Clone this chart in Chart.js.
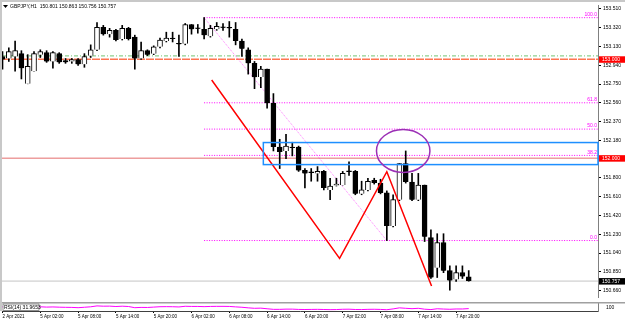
<!DOCTYPE html>
<html>
<head>
<meta charset="utf-8">
<script src="https://cdn.jsdelivr.net/npm/chart.js@4.4.1/dist/chart.umd.min.js"></script>
<style>
  body { margin: 0; background: #fff; }
  #wrap { position: relative; width: 625px; height: 320px; overflow: hidden; background: #fff; }
  #main { position: absolute; left: 0; top: 0; }
  #rsi { position: absolute; left: 0; top: 302px; }
  .bandTop { position: absolute; left: 0; top: 0; width: 625px; height: 2px; background: #c8c8c8; }
  .bandLeft { position: absolute; left: 0; top: 0; width: 2px; height: 311px; background: #c8c8c8; }
</style>
</head>
<body>
<div id="wrap">
  <canvas id="main" width="625" height="302"></canvas>
  <canvas id="rsi" width="625" height="18"></canvas>
  <div class="bandTop"></div>
  <div class="bandLeft"></div>
</div>
<script>
// GBPJPY H1 candles (index 0 = first visible bar)
const openP = [153.028,153.008,153.028,153.057,152.752,152.880,153.047,153.067,152.978,153.057,
  152.988,152.978,152.998,152.949,153.037,153.096,153.323,153.254,153.293,153.205,
  153.313,153.224,153.008,153.087,153.057,153.126,153.185,153.210,153.156,153.156,
  153.352,153.313,153.303,153.234,153.303,153.323,153.318,153.303,153.185,153.096,
  152.959,152.821,152.900,152.555,152.112,152.073,152.112,152.112,151.876,151.856,
  151.846,151.866,151.679,151.723,151.728,151.866,151.866,151.639,151.679,151.777,
  151.748,151.649,151.315,151.580,151.945,151.758,151.580,151.728,151.196,150.891,
  151.147,150.862,150.773,150.842,150.801];
const highP = [153.077,153.116,153.185,153.087,153.047,153.077,153.096,153.087,153.077,153.067,
  153.008,153.008,153.008,153.057,153.146,153.372,153.343,153.313,153.303,153.343,
  153.323,153.244,153.175,153.096,153.136,153.215,153.274,153.274,153.244,153.362,
  153.352,153.352,153.421,153.343,153.372,153.362,153.382,153.372,153.205,153.116,
  152.978,152.929,152.900,152.653,152.191,152.240,152.161,152.122,151.895,151.895,
  151.915,151.876,151.797,151.797,151.866,151.964,151.876,151.767,151.797,151.797,
  151.787,151.669,151.630,151.945,152.073,151.846,151.846,151.728,151.275,151.236,
  151.236,150.911,150.911,150.911,150.863];
const lowP = [152.900,152.978,152.880,152.801,152.752,152.880,153.018,152.969,152.909,152.959,
  152.959,152.959,152.939,152.919,153.018,153.087,153.244,153.224,153.185,153.195,
  153.195,152.900,152.998,153.037,153.047,153.116,153.175,153.175,153.028,153.146,
  153.254,153.264,153.205,153.224,153.293,153.293,153.224,153.146,153.028,152.850,
  152.703,152.713,152.506,152.073,151.895,151.994,152.023,151.866,151.698,151.767,
  151.767,151.679,151.580,151.718,151.728,151.826,151.630,151.630,151.669,151.738,
  151.639,151.167,151.305,151.570,151.748,151.570,151.570,151.157,150.783,150.793,
  150.842,150.665,150.753,150.783,150.756];
const closeP = [152.998,153.077,153.087,152.909,152.929,153.057,153.077,152.978,153.067,152.969,
  152.969,152.998,152.949,153.028,153.096,153.323,153.254,153.293,153.195,153.313,
  153.205,153.008,153.087,153.047,153.126,153.195,153.215,153.205,153.151,153.352,
  153.303,153.308,153.244,153.313,153.333,153.318,153.313,153.185,153.106,152.959,
  152.821,152.900,152.555,152.112,152.063,152.122,152.102,151.876,151.846,151.851,
  151.866,151.698,151.718,151.738,151.846,151.861,151.639,151.679,151.767,151.748,
  151.649,151.315,151.580,151.945,151.758,151.580,151.728,151.206,150.793,151.147,
  150.862,150.763,150.842,150.803,150.757];

const rsiValues = [55,57,58,52,50,55,56,52,54,51,49,48,44,50,56,68,64,65,60,64,
  60,44,48,47,52,57,58,57,54,63,61,61,58,61,62,62,61,55,50,42,
  36,38,30,22,22,25,25,21,20,21,22,20,18,19,23,24,20,19,22,23,
  21,17,28,42,36,31,36,24,19,30,26,23,27,27,32];
const rsiLabel = 'RSI(14) 31.9653';

const xLabels = ['2 Apr 2021','5 Apr 02:00','5 Apr 08:00','5 Apr 14:00','5 Apr 20:00','6 Apr 02:00',
  '6 Apr 08:00','6 Apr 14:00','6 Apr 20:00','7 Apr 02:00','7 Apr 08:00','7 Apr 14:00','7 Apr 20:00'];
const xLabelIdx = [0,6,12,18,24,30,36,42,48,54,60,66,72];
const yTicks = [150.660,150.850,151.040,151.230,151.420,151.610,151.800,
  152.180,152.370,152.560,152.750,152.940,153.130,153.320,153.510];

// fibonacci retracement
const fibNames = ['100.0','61.8','50.0','38.2','0.0'];
const fibPrices = [153.421,152.560,152.294,152.028,151.167];
const fibStart = 32;
const fibTrendX = [32, 61];
const fibTrendY = [153.421, 151.167];

// other objects
const greenLevel = 153.035;
const orangeLevel = 153.000;
const redLevel = 152.000;
const lastPrice = 150.757;
const zigX = [33.2, 53.5, 61.0, 68.1];
const zigY = [152.791, 150.987, 151.863, 150.707];
const zoneStart = 41.4, zoneTop = 152.158, zoneBottom = 151.935;
const ellipseCenter = [63.6, 152.073], ellipseRadius = [4.24, 0.217];

const xMin = -0.08, xMax = 94.52;
const yMin = 150.596, yMax = 153.549;
const FONT = 'Liberation Sans';
Chart.defaults.font.family = FONT;

const idx = openP.map((v, i) => i);
const bull = idx.map(i => closeP[i] >= openP[i]);

const hline = (p, color, width, dash, order) => ({
  type: 'line', data: [{x: xMin, y: p}, {x: xMax, y: p}],
  borderColor: color, borderWidth: width, borderDash: dash, pointRadius: 0, order: order
});

const datasets = [
  // candle bodies and wicks
  { type: 'bar', data: idx.map(i => ({x: i, y: [Math.min(openP[i], closeP[i]), Math.max(openP[i], closeP[i])]})),
    backgroundColor: bull.map(b => b ? '#fff' : '#000'), borderColor: '#000', borderWidth: 1,
    barThickness: 5, minBarLength: 1, grouped: false, order: 4 },
  { type: 'bar', data: idx.map(i => ({x: i, y: [lowP[i], highP[i]]})),
    backgroundColor: '#000', borderWidth: 0, barThickness: 1, grouped: false, order: 5 },
  hline(greenLevel, '#8fcf8f', 1.2, [4, 2, 1, 2], 9),
  hline(orangeLevel, '#ff7552', 1.5, [8, 1], 9),
  hline(redLevel, '#e46c6c', 1, [], 9),
  hline(lastPrice, '#c4c4c4', 1, [], 9),
  { type: 'line', data: fibTrendX.map((v, i) => ({x: v, y: fibTrendY[i]})),
    borderColor: 'rgba(255,0,255,0.5)', borderWidth: 1, borderDash: [1, 1], pointRadius: 0, order: 8 }
];
fibPrices.forEach(p => datasets.push({
  type: 'line', data: [{x: fibStart, y: p}, {x: xMax, y: p}],
  borderColor: '#f0f', borderWidth: 1, borderDash: [1, 1.5], pointRadius: 0, order: 8
}));
datasets.push({
  type: 'line', data: zigX.map((v, i) => ({x: v, y: zigY[i]})),
  borderColor: '#ff0000', borderWidth: 1.5, pointRadius: 0, order: 1
});

const overlay = {
  id: 'overlay',
  afterDatasetsDraw(chart) {
    const {ctx, chartArea: a, scales: {x, y}} = chart;
    ctx.save();
    ctx.beginPath();
    ctx.rect(a.left, a.top, a.right - a.left + 1, a.bottom - a.top);
    ctx.clip();
    const rx = x.getPixelForValue(zoneStart);
    const r0 = y.getPixelForValue(zoneTop), r1 = y.getPixelForValue(zoneBottom);
    ctx.strokeStyle = '#1e8fff';
    ctx.lineWidth = 1.5;
    ctx.strokeRect(rx, r0, a.right - rx, r1 - r0);
    const cx = x.getPixelForValue(ellipseCenter[0]), cy = y.getPixelForValue(ellipseCenter[1]);
    const ex = x.getPixelForValue(ellipseCenter[0] + ellipseRadius[0]) - cx;
    const ey = cy - y.getPixelForValue(ellipseCenter[1] + ellipseRadius[1]);
    ctx.beginPath();
    ctx.ellipse(cx, cy, ex, ey, 0, 0, Math.PI * 2);
    ctx.strokeStyle = '#9b2fb5';
    ctx.stroke();
    // fib level names
    ctx.fillStyle = '#f0f';
    ctx.font = '5px ' + FONT;
    ctx.textAlign = 'right';
    ctx.textBaseline = 'bottom';
    fibPrices.forEach((p, i) => ctx.fillText(fibNames[i], a.right - 1, y.getPixelForValue(p) - 0.5));
    ctx.restore();
  },
  afterDraw(chart) {
    const {ctx, chartArea: a, scales: {y}} = chart;
    ctx.save();
    ctx.font = '5px ' + FONT;
    ctx.textBaseline = 'middle';
    const tag = (p, bg) => {
      const py = y.getPixelForValue(p);
      ctx.fillStyle = bg;
      ctx.fillRect(a.right + 1, py - 3, 26, 6.5);
      ctx.fillStyle = '#fff';
      ctx.textAlign = 'left';
      ctx.fillText(p.toFixed(3), a.right + 4, py + 0.3);
    };
    tag(orangeLevel, '#ff0000');
    tag(redLevel, '#ff0000');
    tag(lastPrice, '#000');
    // title
    ctx.fillStyle = '#000';
    ctx.beginPath();
    ctx.moveTo(3, 5); ctx.lineTo(8, 5); ctx.lineTo(5.5, 8); ctx.closePath();
    ctx.fill();
    ctx.textAlign = 'left';
    ctx.fillText('GBPJPY,H1  ' + [openP[74], highP[74], lowP[74], closeP[74]].map(v => v.toFixed(3)).join(' '), 10, 6.5);
    ctx.restore();
  }
};

new Chart(document.getElementById('main'), {
  type: 'bar',
  data: { datasets: datasets },
  options: {
    responsive: false, animation: false, devicePixelRatio: 1,
    layout: { padding: { left: 2, top: 2, right: 0, bottom: 0 } },
    plugins: { legend: { display: false }, tooltip: { enabled: false } },
    scales: {
      x: { type: 'linear', min: xMin, max: xMax, display: false, offset: false },
      y: {
        position: 'right', min: yMin, max: yMax,
        afterFit(s) { s.width = 27; },
        afterBuildTicks(s) { s.ticks = yTicks.map(v => ({value: v})); },
        ticks: { autoSkip: false, padding: 2, color: '#000', font: { size: 5 }, callback: v => v.toFixed(3) },
        grid: { drawOnChartArea: false, tickLength: 3, color: '#000' },
        border: { color: '#808080' }
      }
    }
  },
  plugins: [overlay]
});

const rsiDecor = {
  id: 'rsiDecor',
  afterDraw(chart) {
    const {ctx, chartArea: a} = chart;
    ctx.save();
    ctx.fillStyle = '#a0a0a0';
    ctx.fillRect(0, 0, 625, 1.5);
    ctx.font = '5px ' + FONT;
    ctx.textBaseline = 'middle';
    ctx.fillStyle = '#fff';
    ctx.fillRect(3, 2, 36, 6.5);
    ctx.strokeStyle = '#606060';
    ctx.lineWidth = 0.7;
    ctx.strokeRect(3, 2, 36, 6.5);
    ctx.fillStyle = '#000';
    ctx.textAlign = 'left';
    ctx.fillText(rsiLabel, 4, 5.4);
    ctx.fillText('100', a.right + 8, 5.4);
    ctx.restore();
  }
};

new Chart(document.getElementById('rsi'), {
  type: 'line',
  data: { datasets: [{ data: rsiValues.map((v, i) => ({x: i, y: v})), borderColor: '#ff00ff', borderWidth: 1, pointRadius: 0 }] },
  options: {
    responsive: false, animation: false, devicePixelRatio: 1,
    layout: { padding: { left: 2, top: 1.5, right: 0, bottom: 0 } },
    plugins: { legend: { display: false }, tooltip: { enabled: false } },
    scales: {
      x: {
        type: 'linear', min: xMin, max: xMax,
        afterFit(s) { s.height = 9; },
        afterBuildTicks(s) { s.ticks = xLabelIdx.map(v => ({value: v})); },
        ticks: { autoSkip: false, maxRotation: 0, align: 'start', padding: 1, color: '#000',
          font: { size: 4.5 }, callback: (v, i) => xLabels[i] },
        grid: { drawOnChartArea: false, tickLength: 2, color: '#000' },
        border: { color: '#404040' }
      },
      y: {
        position: 'right', min: 0, max: 100,
        afterFit(s) { s.width = 27; },
        ticks: { display: false }, grid: { display: false },
        border: { color: '#808080' }
      }
    }
  },
  plugins: [rsiDecor]
});
</script>
</body>
</html>
